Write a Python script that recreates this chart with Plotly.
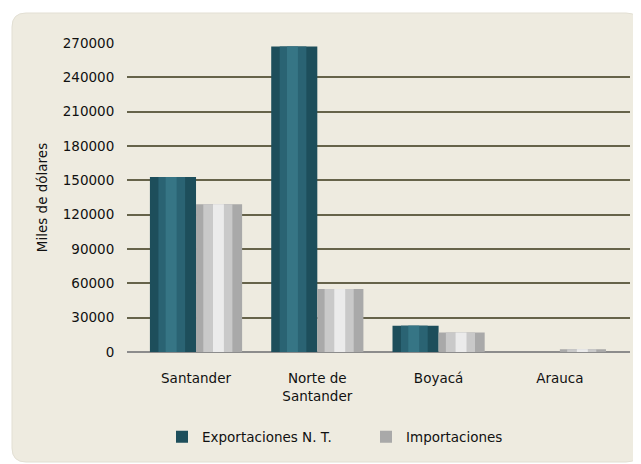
import plotly.graph_objects as go

departamentos = ['Santander', 'Norte de<br>Santander', 'Boyacá', 'Arauca']
exportaciones = [153000, 267000, 23000, 0]
importaciones = [129000, 55000, 17000, 2500]
y_ticks = [0, 30000, 60000, 90000, 120000, 150000, 180000, 210000, 240000, 270000]

# the page body has an 8px margin, so the figure is drawn 8px in from the window corner
W, H = 633, 456
L, R, T, B = 119, 11, 35, 112
pw, ph = W - L - R, H - T - B


def px_to_paper(x, y):
    return (x - L) / pw, (H - B - y) / ph


def rounded_panel(x0, y0, x1, y1, r):
    ax0, ay0 = px_to_paper(x0, y0)
    ax1, ay1 = px_to_paper(x1, y1)
    rx, ry = r / pw, r / ph
    return (f"M {ax0 + rx},{ay0} L {ax1 - rx},{ay0} Q {ax1},{ay0} {ax1},{ay0 - ry} "
            f"L {ax1},{ay1 + ry} Q {ax1},{ay1} {ax1 - rx},{ay1} "
            f"L {ax0 + rx},{ay1} Q {ax0},{ay1} {ax0},{ay1 + ry} "
            f"L {ax0},{ay0 - ry} Q {ax0},{ay0} {ax0 + rx},{ay0} Z")


bw = 0.38
fig = go.Figure()
# main bars
fig.add_trace(go.Bar(
    x=departamentos, y=exportaciones, name='Exportaciones N. T.',
    offset=-bw, width=bw,
    marker=dict(color='#1d4e5b', line=dict(width=0)),
))
fig.add_trace(go.Bar(
    x=departamentos, y=importaciones, name='Importaciones',
    offset=0, width=bw,
    marker=dict(color='#a9a9a9', line=dict(width=0)),
))
# lighter inner strips to hint at the cylinder shading
fig.add_trace(go.Bar(
    x=departamentos, y=exportaciones, showlegend=False, hoverinfo='skip',
    offset=-bw + 0.07, width=0.22, marker=dict(color='#2a6373', line=dict(width=0)),
))
fig.add_trace(go.Bar(
    x=departamentos, y=exportaciones, showlegend=False, hoverinfo='skip',
    offset=-bw + 0.13, width=0.09, marker=dict(color='#367585', line=dict(width=0)),
))
fig.add_trace(go.Bar(
    x=departamentos, y=importaciones, showlegend=False, hoverinfo='skip',
    offset=0.06, width=0.24, marker=dict(color='#c9c9c9', line=dict(width=0)),
))
fig.add_trace(go.Bar(
    x=departamentos, y=importaciones, showlegend=False, hoverinfo='skip',
    offset=0.14, width=0.09, marker=dict(color='#ebebeb', line=dict(width=0)),
))

fig.add_shape(type='path', path=rounded_panel(4, 5, 632, 454, 14),
              xref='paper', yref='paper', fillcolor='#eeebe0',
              line=dict(color='#e2dfd3', width=1), layer='below')

leg_x, leg_y = px_to_paper(154, 429)
fig.update_layout(
    width=W, height=H,
    margin=dict(l=L, r=R, t=T, b=B),
    paper_bgcolor='white',
    plot_bgcolor='rgba(0,0,0,0)',
    barmode='overlay',
    font=dict(family='DejaVu Sans', size=13.5, color='#111111'),
    showlegend=True,
    legend=dict(orientation='h', x=leg_x, xanchor='left', y=leg_y, yanchor='middle',
                font=dict(size=13.5, color='#111111'), itemwidth=30, traceorder='normal',
                entrywidth=159, bgcolor='rgba(0,0,0,0)'),
    xaxis=dict(range=[-0.569, 3.578], showgrid=False, showline=False,
               ticks='outside', ticklen=14, tickcolor='rgba(0,0,0,0)'),
    yaxis=dict(
        range=[0, 270000], tickvals=y_ticks, tickformat='d',
        showgrid=True, gridcolor='#66634a', gridwidth=2,
        zeroline=True, zerolinecolor='#8c8c8c', zerolinewidth=2,
        ticks='outside', ticklen=9, tickcolor='rgba(0,0,0,0)',
        title=dict(text='Miles de dólares', font=dict(size=13.5), standoff=12),
    ),
)

fig.write_html('out.html')
